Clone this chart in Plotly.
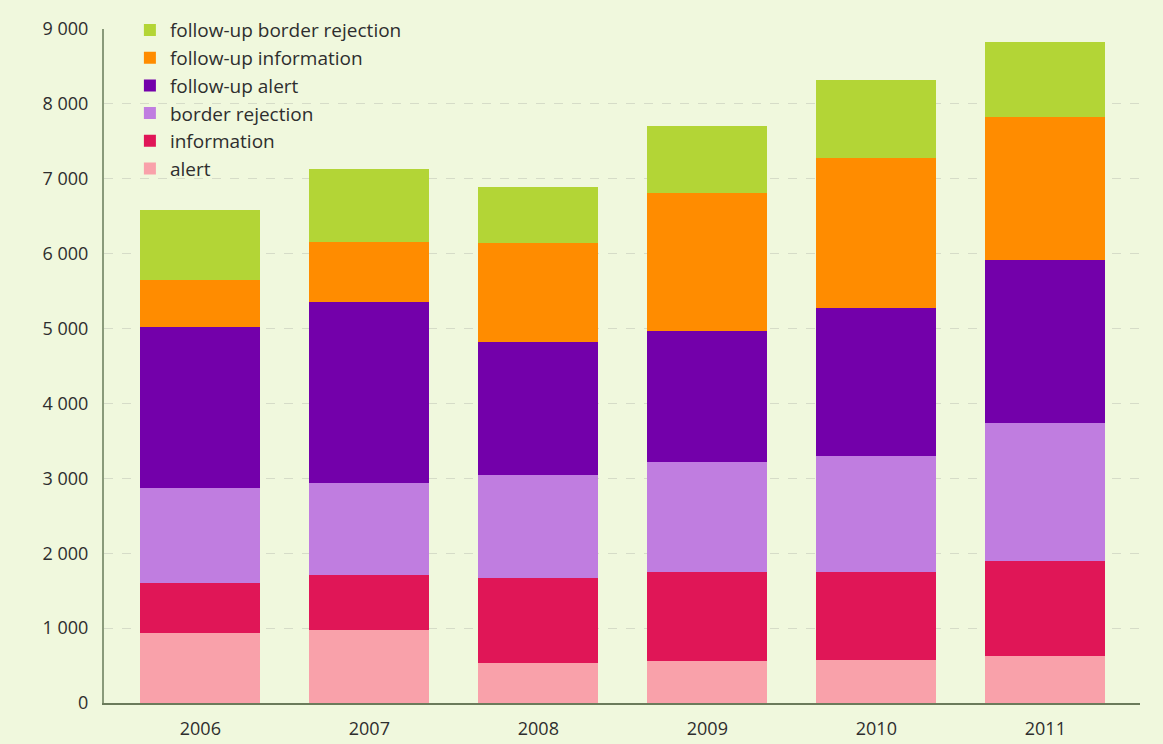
import plotly.graph_objects as go

years = ["2006", "2007", "2008", "2009", "2010", "2011"]
alert = [933, 973, 533, 560, 573, 627]
information = [667, 734, 1134, 1187, 1174, 1266]
border_rejection = [1267, 1226, 1373, 1466, 1546, 1840]
followup_alert = [2160, 2427, 1787, 1760, 1987, 2187]
followup_information = [626, 800, 1320, 1840, 2000, 1907]
followup_border_rejection = [934, 973, 746, 894, 1040, 1000]

series = [
    ("alert", alert, "#f9a1aa"),
    ("information", information, "#e01657"),
    ("border rejection", border_rejection, "#c07de0"),
    ("follow-up alert", followup_alert, "#7300aa"),
    ("follow-up information", followup_information, "#ff8c00"),
    ("follow-up border rejection", followup_border_rejection, "#b3d536"),
]

fig = go.Figure()
for name, vals, col in series:
    fig.add_trace(go.Bar(x=years, y=vals, name=name, marker=dict(color=col, line=dict(width=0)),
                         width=0.71))

bg = "#f0f8dd"
fig.update_layout(
    barmode="stack",
    width=1163, height=744,
    margin=dict(l=104, r=23, t=29, b=41, autoexpand=False),
    paper_bgcolor=bg, plot_bgcolor=bg,
    separators=". ",
    font=dict(family="Open Sans, DejaVu Sans, sans-serif", size=17, color="#2e2e2e"),
    showlegend=True,
    legend=dict(traceorder="reversed", x=0.025, y=0.985, yref="container",
                xanchor="left", yanchor="top",
                bgcolor="rgba(0,0,0,0)", font=dict(size=19, color="#2e2e2e"),
                itemwidth=30, tracegroupgap=0),
    xaxis=dict(range=[-0.57, 5.56], showline=True, linecolor="#6b7b5b", linewidth=2,
               ticks="", showgrid=False, tickfont=dict(size=18), ticklabelstandoff=8,
               automargin=False),
    yaxis=dict(range=[0, 9000], tickvals=list(range(0, 9001, 1000)), tickformat=",d",
               showline=True, linecolor="#8a9a7a", linewidth=2, ticks="",
               showgrid=True, gridcolor="#d6dcc8", griddash="dash", gridwidth=1,
               zeroline=False, tickfont=dict(size=18), ticklabelstandoff=10,
               automargin=False),
    bargap=0.3,
)

fig.write_html("out.html")
